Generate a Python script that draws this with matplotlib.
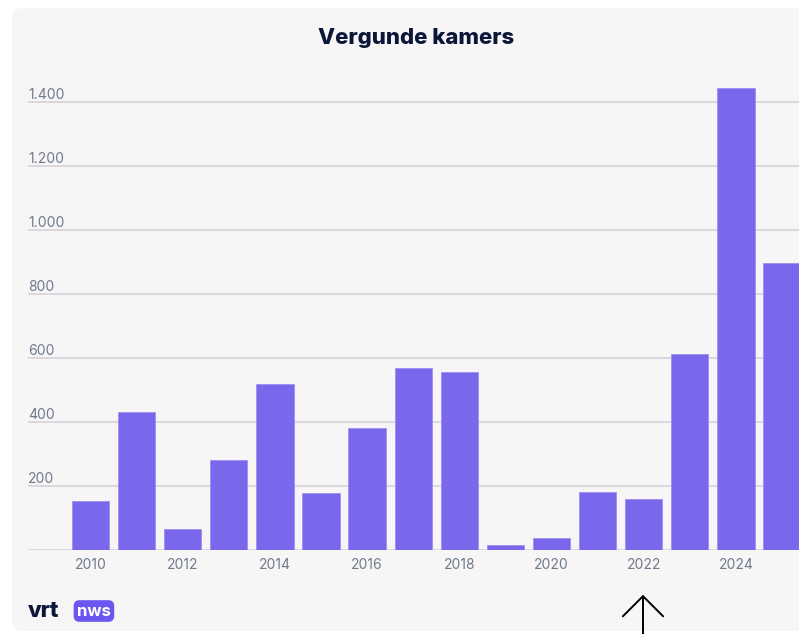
import matplotlib
matplotlib.use("Agg")
import matplotlib.pyplot as plt
from matplotlib.patches import FancyBboxPatch, FancyArrowPatch
from matplotlib.ticker import FuncFormatter

years = [2010, 2011, 2012, 2013, 2014, 2015, 2016, 2017,
         2018, 2019, 2020, 2021, 2022, 2023, 2024, 2025]
kamers = [153, 431, 67, 280, 519, 177, 380, 570,
          556, 16, 37, 182, 160, 612, 1443, 896]
y_ticks = [0, 200, 400, 600, 800, 1000, 1200, 1400]
title = "Vergunde kamers"

W, H = 799, 634
BAR = "#7968ec"
GRID = "#d3d0d6"
LABEL = "#6f7a8d"
NAVY = "#0b1738"
CARD = "#f7f5f6"

plt.rcParams["font.family"] = ["Inter", "DejaVu Sans"]

fig = plt.figure(figsize=(W / 100, H / 100), dpi=100)
fig.patch.set_facecolor("white")

# card background (runs off the right edge, like the screenshot)
card = FancyBboxPatch((12 / W, 1 - 631 / H), 820 / W, 623 / H,
                      boxstyle="round,pad=0,rounding_size=0.015",
                      transform=fig.transFigure, fc=CARD, ec="none", zorder=-10)
fig.patches.append(card)

# axes: 0 at y=550px, 0.32 px per unit; 46.1 px per bar, 2010 centred at x=90.5
px_unit = 0.32
y_top = 1500
ax_bottom = 1 - 550 / H
ax_height = y_top * px_unit / H
ax = fig.add_axes([28 / W, ax_bottom, 1 - 28 / W, ax_height])
ax.set_facecolor("none")

x = list(range(len(years)))
ax.bar(x, kamers, width=0.81, color=BAR, edgecolor="#9d90f2", linewidth=0.6, zorder=3)

ax.set_xlim((28 - 90.5) / 46.1, (W - 90.5) / 46.1)
ax.set_ylim(0, y_top)

ax.set_yticks(y_ticks)
ax.yaxis.set_major_formatter(FuncFormatter(
    lambda v, _: "" if v == 0 else f"{int(v):,}".replace(",", ".")))
ax.tick_params(axis="y", length=0, pad=0, labelsize=10, labelcolor=LABEL)
for lab in ax.get_yticklabels():
    lab.set_horizontalalignment("left")
    lab.set_verticalalignment("bottom")
ax.grid(axis="y", color=GRID, linewidth=1.1, zorder=1)

ax.set_xticks(x[::2])
ax.set_xticklabels([str(y) for y in years[::2]])
ax.tick_params(axis="x", length=0, pad=6, labelsize=10, labelcolor=LABEL)

for s in ax.spines.values():
    s.set_visible(False)

fig.text(416 / W, 1 - 38 / H, title, ha="center", va="center",
         fontsize=16, fontweight="heavy", color=NAVY)

# vrt nws logo
fig.text(28 / W, 1 - 611 / H, "vrt", ha="left", va="center",
         fontsize=16, fontweight="heavy", color=NAVY)
fig.text(77 / W, 1 - 611 / H, "nws", ha="left", va="center",
         fontsize=12, fontweight="bold", color="white",
         bbox=dict(boxstyle="round,pad=0.2,rounding_size=0.35", fc="#6b57ef", ec="none"))

# hand-drawn arrow pointing at 2022
fig.add_artist(FancyArrowPatch(
    (643 / W, -0.01), (643 / W, 1 - 592 / H), transform=fig.transFigure,
    arrowstyle="->,head_length=1.0,head_width=1.0", mutation_scale=14.5,
    color="black", linewidth=1.4))

fig.savefig("out.png", dpi=100, facecolor="white")
